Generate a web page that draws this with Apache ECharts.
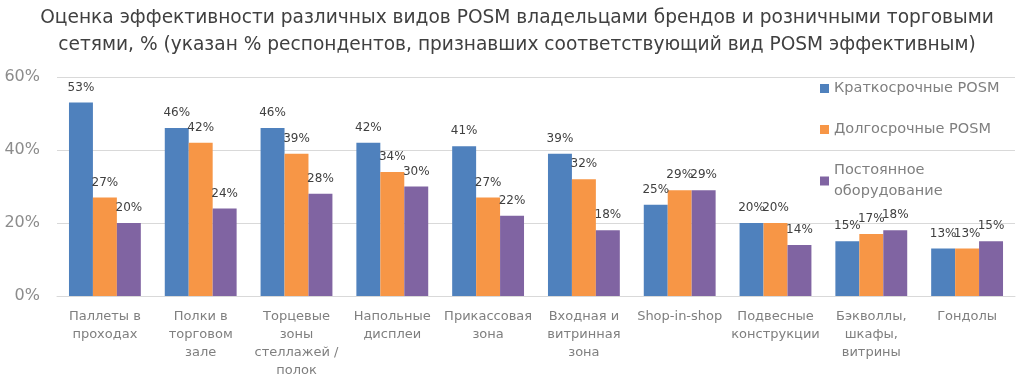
<!DOCTYPE html>
<html><head><meta charset="utf-8">
<script src="https://cdn.jsdelivr.net/npm/echarts@6/dist/echarts.min.js"></script>
<style>html,body{margin:0;padding:0;background:#fff}#c{width:1034px;height:381px}</style>
</head><body><div id="c"></div>
<script>
const categories = ['Паллеты в\nпроходах','Полки в\nторговом\nзале','Торцевые\nзоны\nстеллажей /\nполок','Напольные\nдисплеи','Прикассовая\nзона','Входная и\nвитринная\nзона','Shop-in-shop','Подвесные\nконструкции','Бэкволлы,\nшкафы,\nвитрины','Гондолы'];
const seriesNames = ['Краткосрочные POSM','Долгосрочные POSM','Постоянное\nоборудование'];
const shortTerm = [53,46,46,42,41,39,25,20,15,13];
const longTerm = [27,42,39,34,27,32,29,20,17,13];
const permanent = [20,24,28,30,22,18,29,14,18,15];
const yTicks = [0,20,40,60];
const colors = ['#4F81BD','#F79646','#8064A2'];
const FONT = 'DejaVu Sans';
const chart = echarts.init(document.getElementById('c'));
const mk = (name, data, color) => ({
  name, type:'bar', data, barGap:'0%', barCategoryGap:'25%',
  itemStyle:{color},
  label:{show:true, position:'top', distance:9, formatter:p=>p.value+'%', color:'#404040', fontSize:12, fontFamily:FONT},
  animation:false
});
chart.setOption({
  animation:false,
  title:{text:'Оценка эффективности различных видов POSM владельцами брендов и розничными торговыми\nсетями, % (указан % респондентов, признавших соответствующий вид POSM эффективным)',
    left:'center', top:0,
    textStyle:{fontFamily:FONT, fontSize:18.6, fontWeight:'normal', color:'#404040', lineHeight:27}},
  legend:{orient:'vertical', left:815, top:73, itemWidth:9, itemHeight:9, itemGap:20, itemGap:20, icon:'rect',
    textStyle:{fontFamily:FONT, fontSize:14.5, color:'#7f7f7f', lineHeight:21}, data:seriesNames},
  grid:{left:57, right:19, top:77, bottom:85},
  xAxis:{type:'category', data:categories,
    axisLine:{lineStyle:{color:'#d9d9d9'}}, axisTick:{show:false},
    axisLabel:{interval:0, margin:12, fontFamily:FONT, fontSize:13, color:'#7f7f7f', lineHeight:18}},
  yAxis:{type:'value', min:yTicks[0], max:yTicks[yTicks.length-1], interval:20,
    axisLine:{show:false}, axisTick:{show:false},
    splitLine:{lineStyle:{color:'#d9d9d9'}},
    axisLabel:{formatter:v=>v+'%', fontFamily:FONT, fontSize:16, color:'#8c8c8c', margin:17}},
  series:[mk(seriesNames[0],shortTerm,colors[0]), mk(seriesNames[1],longTerm,colors[1]), mk(seriesNames[2],permanent,colors[2])]
});
</script></body></html>
